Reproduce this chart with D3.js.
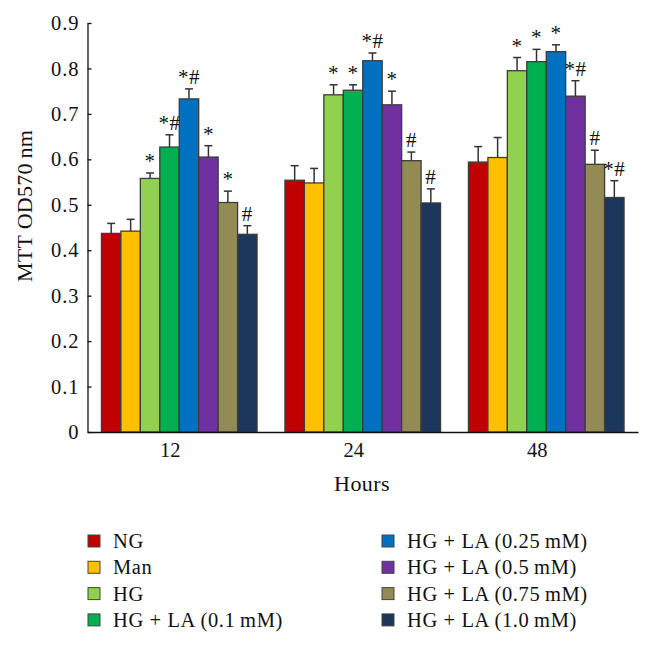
<!DOCTYPE html>
<html>
<head>
<meta charset="utf-8">
<script src="https://cdn.jsdelivr.net/npm/d3@7"></script>
<style>
  body { margin: 0; background: #fff; }
  svg { display: block; }
  text { font-family: "Liberation Serif", "DejaVu Serif", serif; fill: #111; }
</style>
</head>
<body>
<svg id="chart" width="652" height="645"></svg>
<script>
// ---- data ----
const hours = ["12", "24", "48"];
const groups = ["NG", "Man", "HG", "HG + LA (0.1\u2009mM)", "HG + LA (0.25\u2009mM)",
                "HG + LA (0.5\u2009mM)", "HG + LA (0.75\u2009mM)", "HG + LA (1.0\u2009mM)"];
const colors = ["#c00000", "#ffc000", "#92d050", "#00b050", "#0070c0", "#7030a0", "#948a54", "#1c365c"];
const values12 = [0.437, 0.442, 0.558, 0.627, 0.733, 0.605, 0.505, 0.435];
const values24 = [0.554, 0.548, 0.742, 0.752, 0.817, 0.720, 0.597, 0.504];
const values48 = [0.594, 0.604, 0.795, 0.815, 0.837, 0.739, 0.589, 0.516];
const errors12 = [0.022, 0.026, 0.012, 0.027, 0.022, 0.025, 0.025, 0.019];
const errors24 = [0.032, 0.032, 0.022, 0.012, 0.017, 0.030, 0.019, 0.031];
const errors48 = [0.034, 0.044, 0.029, 0.027, 0.015, 0.034, 0.031, 0.037];
const marks12 = ["", "", "*", "*#", "*#", "*", "*", "#"];
const marks24 = ["", "", "*", "*", "*#", "*", "#", "#"];
const marks48 = ["", "", "*", "*", "*", "*#", "#", "*#"];
const yTicks = [0, 0.1, 0.2, 0.3, 0.4, 0.5, 0.6, 0.7, 0.8, 0.9];
const yTitle = "MTT OD570\u2009nm";
const xTitle = "Hours";

const values = [values12, values24, values48];
const errors = [errors12, errors24, errors48];
const marks = [marks12, marks24, marks48];

// ---- layout ----
const svg = d3.select("#chart");
const x0 = d3.scaleBand().domain(hours).range([87.5, 638]).paddingInner(0.152).paddingOuter(0.076);
const x1 = d3.scaleBand().domain(d3.range(groups.length)).range([0, x0.bandwidth()]);
const y = d3.scaleLinear().domain([0, 0.9]).range([432, 23]);
const color = d3.scaleOrdinal().domain(d3.range(groups.length)).range(colors);

const data = [];
hours.forEach((h, i) => groups.forEach((g, j) => data.push({
  h, j, v: values[i][j], e: errors[i][j], m: marks[i][j]
})));

// error bars (upward only)
const eb = svg.append("g").attr("stroke", "#333").attr("stroke-width", 1.5).attr("fill", "none");
data.forEach(d => {
  const cx = x0(d.h) + x1(d.j) + x1.bandwidth() / 2;
  eb.append("line").attr("x1", cx).attr("x2", cx).attr("y1", y(d.v)).attr("y2", y(d.v + d.e));
  eb.append("line").attr("x1", cx - 4).attr("x2", cx + 4).attr("y1", y(d.v + d.e)).attr("y2", y(d.v + d.e));
});

// bars
svg.append("g").selectAll("rect").data(data).join("rect")
  .attr("x", d => x0(d.h) + x1(d.j))
  .attr("y", d => y(d.v))
  .attr("width", x1.bandwidth())
  .attr("height", d => y(0) - y(d.v))
  .attr("fill", d => color(d.j))
  .attr("stroke", "#3c3c3c")
  .attr("stroke-width", 1.3);

// significance marks
svg.append("g").selectAll("text").data(data.filter(d => d.m)).join("text")
  .attr("x", d => x0(d.h) + x1(d.j) + x1.bandwidth() / 2)
  .attr("y", d => y(d.v + d.e) - 5)
  .attr("text-anchor", "middle")
  .attr("font-size", 21)
  .attr("letter-spacing", 0.5)
  .attr("fill", "#222")
  .text(d => d.m);

// y axis
const yAxis = svg.append("g").attr("transform", "translate(87.5,0)")
  .call(d3.axisLeft(y).tickValues(yTicks).tickSizeInner(-4).tickSizeOuter(0)
    .tickPadding(8).tickFormat(d => d === 0 ? "0" : d3.format(".1f")(d)));
yAxis.select(".domain").attr("stroke", "#111").attr("stroke-width", 1.3);
yAxis.selectAll(".tick line").attr("stroke", "#111").attr("stroke-width", 1.3);
yAxis.selectAll("text").attr("font-size", 20.5).attr("letter-spacing", 1)
  .attr("font-family", "Liberation Serif").attr("fill", "#111");

// x axis
const xAxis = svg.append("g").attr("transform", "translate(0,432)")
  .call(d3.axisBottom(x0).tickSize(0).tickPadding(10));
xAxis.select(".domain").attr("stroke", "#111").attr("stroke-width", 1.3);
xAxis.selectAll("text").attr("font-size", 20.5).attr("font-family", "Liberation Serif")
  .attr("fill", "#111").attr("x", -9);

// axis titles
svg.append("text").attr("x", 362).attr("y", 491).attr("text-anchor", "middle")
  .attr("font-size", 22).attr("letter-spacing", 0.4).text(xTitle);
svg.append("text").attr("transform", "translate(32,206) rotate(-90)")
  .attr("text-anchor", "middle").attr("font-size", 22)
  .attr("textLength", 152).attr("lengthAdjust", "spacing").text(yTitle);

// legend
const legend = svg.append("g");
groups.forEach((g, j) => {
  const col = j < 4 ? 0 : 1;
  const row = j % 4;
  const lx = col === 0 ? 88 : 382;
  const ly = 541 + row * 26.3;
  legend.append("rect").attr("x", lx).attr("y", ly - 6).attr("width", 12).attr("height", 12)
    .attr("fill", colors[j]).attr("stroke", "#444").attr("stroke-width", 1);
  legend.append("text").attr("x", lx + 25).attr("y", ly + 7)
    .attr("font-size", 20.5).attr("letter-spacing", 0.6).text(g);
});
</script>
</body>
</html>
